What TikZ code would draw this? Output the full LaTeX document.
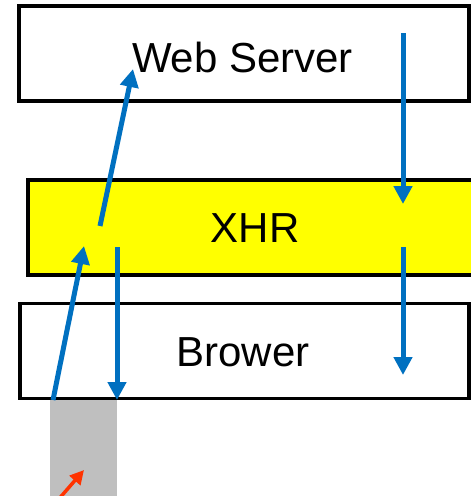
\documentclass[tikz,border=0pt]{standalone}
\usepackage{fontspec}
\setmainfont{Liberation Sans}
\usetikzlibrary{arrows.meta}
\definecolor{arrowblue}{HTML}{0070C0}
\definecolor{graybox}{HTML}{BFBFBF}
\definecolor{redarrow}{HTML}{FF3300}
\definecolor{xhryellow}{HTML}{FFFF00}
\begin{document}
\begin{tikzpicture}[x=1pt,y=-1pt,
  layerbox/.style={draw=black,line width=3.2pt,minimum width=#1,minimum height=95pt,inner sep=0pt},
  layertext/.style={inner sep=0pt,font=\fontsize{42}{42}\selectfont},
  flow/.style={draw=arrowblue,line width=5pt,-{Triangle[width=18pt,length=18pt]}},
  poke/.style={draw=redarrow,line width=3.5pt,-{Triangle[width=14pt,length=14pt]}}]
\useasboundingbox (0,0) rectangle (471,496);
\clip (0,0) rectangle (471,496);
% boxes
\node[layerbox=450pt] (web) at (244,53.5) {};
\node[layertext] (webt) at (242.5,57) {Web Server};
\node[layerbox=470pt,fill=xhryellow] (xhr) at (263,227.5) {};
\node[layertext] (xhrt) at (255,228) {XHR};
\node[layerbox=449pt] (brow) at (244.5,351) {};
\node[layertext] (browt) at (243,352) {Brower};
\node[fill=graybox,inner sep=0pt,minimum width=67pt,minimum height=100pt,anchor=north west] (gray) at (50,400) {};
% coordinates
\coordinate (r1s) at (403,33);
\coordinate (r1e) at (403,204);
\coordinate (r2s) at (403,247);
\coordinate (r2e) at (403,375);
\coordinate (l1s) at (117,247);
\coordinate (l1e) at (117,400);
\coordinate (u1s) at (53,400);
\coordinate (u1e) at (84,246);
\coordinate (u2s) at (100,226);
\coordinate (u2e) at (133,69);
\coordinate (ps) at (58,500);
\coordinate (pe) at (84,470);
% arrows
\draw[flow] (r1s) -- (r1e);
\draw[flow] (r2s) -- (r2e);
\draw[flow] (l1s) -- (l1e);
\draw[flow] (u1s) -- (u1e);
\draw[flow] (u2s) -- (u2e);
\draw[poke] (ps) -- (pe);
\end{tikzpicture}
\end{document}
